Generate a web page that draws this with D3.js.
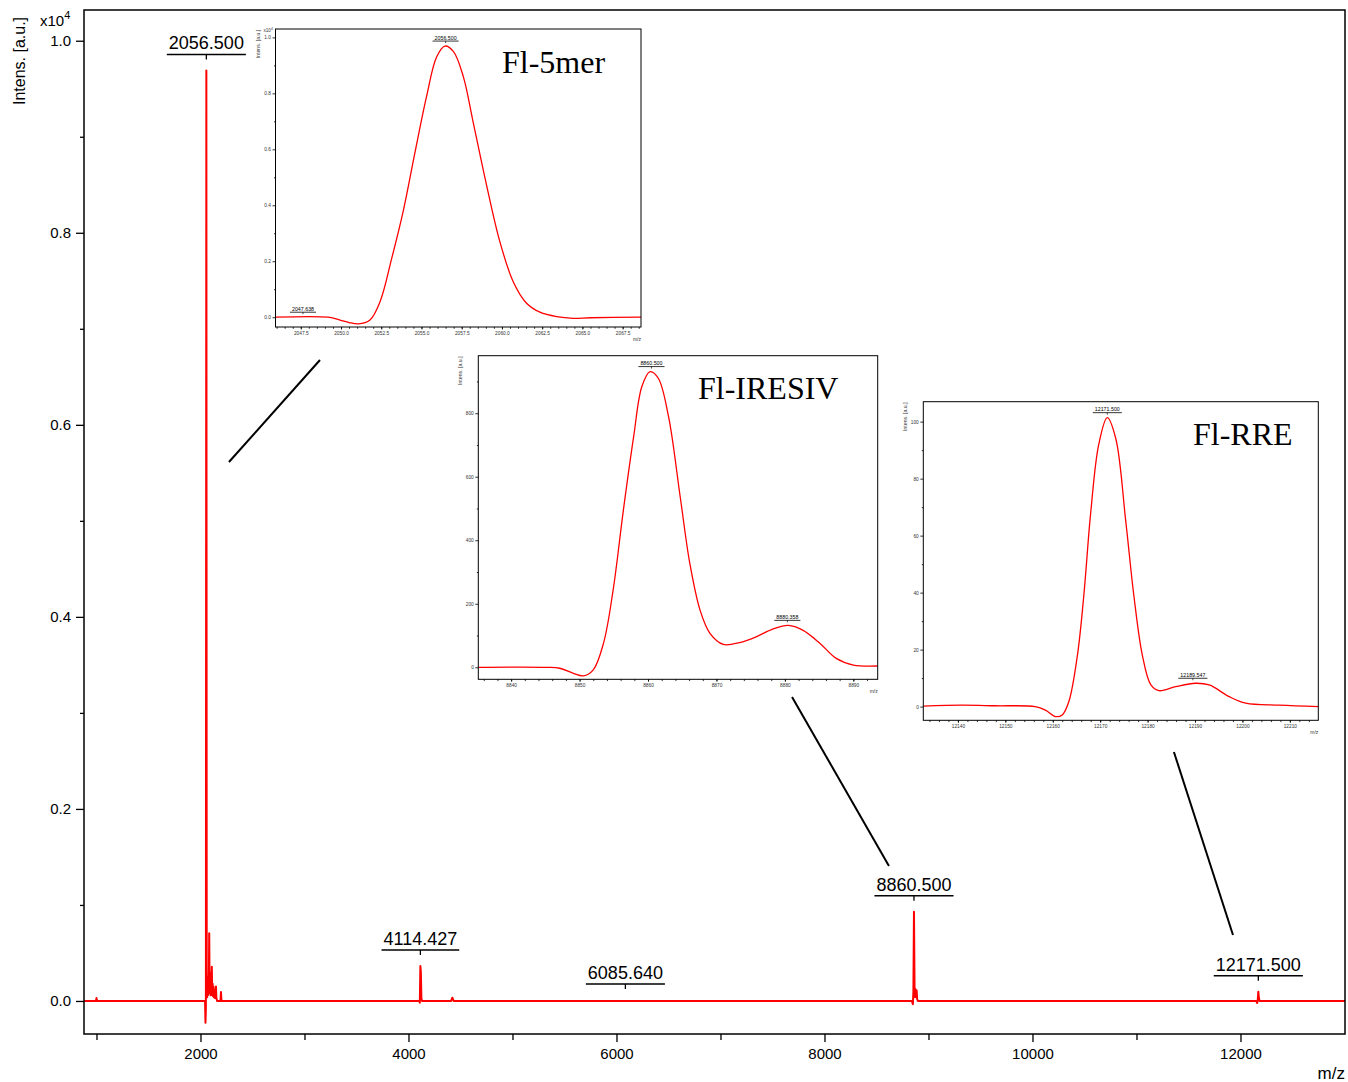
<!DOCTYPE html>
<html>
<head>
<meta charset="utf-8">
<script src="https://cdn.jsdelivr.net/npm/d3@7/dist/d3.min.js"></script>
<style>
  body { margin: 0; background: #fff; }
  svg { display: block; font-family: "Liberation Sans", Arial, Helvetica, sans-serif; }
</style>
</head>
<body>
<svg id="chart" width="1348" height="1082"></svg>
<script>
// ---- main spectrum (m/z vs intensity, raw counts) ----
var mainMz  = [880, 995, 1000, 1006, 2035, 2044, 2048, 2052, 2056.5, 2060, 2064, 2068, 2072, 2076, 2080, 2084, 2088, 2092,
               2097, 2101, 2105, 2109, 2113, 2117, 2121, 2125, 2129, 2134, 2140, 2145, 2149, 2153, 2160, 2185, 2192, 2197,
               2202, 4095, 4104, 4109, 4114.4, 4119, 4124, 4130, 4410, 4422, 4434, 8840, 8850, 8855, 8860.5, 8866, 8871,
               8876, 8881, 8886, 8891, 8897, 12150, 12161, 12166, 12171.5, 12177, 12184, 13005];
var mainInt = [0, 0, 30, 0, 0, 0, -226, -60, 9690, 300, 40, 200, 60, 250, 120, 705, 80, 300,
               60, 240, 80, 357, 60, 180, 50, 150, 40, 90, 30, 110, 150, 30, 0, 0, 0, 93,
               0, 0, 0, -18, 364, 300, 30, 0, 0, 34, 0, 0, -35, 100, 930, 150, 40,
               122, 60, 110, 20, 0, 0, -20, 10, 97, 30, 0, 0];
var mainPeakMz  = [2056.500, 4114.427, 6085.640, 8860.500, 12171.500];
var mainPeakInt = [9690, 364, 10, 930, 97];
var mainXTicks = [2000, 4000, 6000, 8000, 10000, 12000];
var mainXMinor = [1000, 3000, 5000, 7000, 9000, 11000];
var mainYTicks = [0, 2000, 4000, 6000, 8000, 10000];
var mainYMinor = [1000, 3000, 5000, 7000, 9000];

// ---- Fl-5mer inset ----
var fl5Mz  = [2045.93, 2049.21, 2049.94, 2050.5, 2051.08, 2051.8, 2052.43, 2053.15, 2053.87, 2054.6, 2055.32, 2055.94,
              2056.46, 2056.98, 2057.6, 2058.2, 2059.04, 2059.87, 2060.7, 2061.53, 2062.36, 2063.4, 2064.43, 2065.5, 2068.64];
var fl5Int = [0, 0, -100, -190, -240, -100, 560, 2100, 3800, 5900, 7900, 9300,
              9690, 9500, 8600, 7000, 4730, 2700, 1270, 500, 180, 20, -40, -20, 0];
var fl5PeakMz  = [2056.500, 2047.638];
var fl5PeakInt = [9690, 0];
var fl5XTicks = [2047.5, 2050, 2052.5, 2055, 2057.5, 2060, 2062.5, 2065, 2067.5];
var fl5YTicks = [0, 2000, 4000, 6000, 8000, 10000];

// ---- Fl-IRESIV inset ----
var iresMz  = [8835.2, 8845.2, 8847.1, 8849.1, 8850.55, 8852, 8853.5, 8854.9, 8856.4, 8857.9, 8859.1, 8860.3, 8861.5, 8863,
               8864.7, 8866.1, 8867.6, 8869.05, 8871, 8873.4, 8875.8, 8878.3, 8880.5, 8882.6, 8885.1, 8887.5, 8890, 8893.56];
var iresInt = [0, 0, -3, -19, -27, -8, 76, 243, 495, 726, 884, 931, 910, 789,
               537, 328, 180, 107, 72, 78, 96, 121, 132, 117, 76, 28, 7, 4];
var iresPeakMz  = [8860.500, 8880.358];
var iresPeakInt = [931, 132];
var iresXTicks = [8840, 8850, 8860, 8870, 8880, 8890];
var iresYTicks = [0, 200, 400, 600, 800];

// ---- Fl-RRE inset ----
var rreMz  = [12132.7, 12140.8, 12147.9, 12156.3, 12158.45, 12160.6, 12162, 12163.4, 12165.2, 12166.55, 12168, 12169.7, 12171.5,
              12173.3, 12175.4, 12177.1, 12178.9, 12180.7, 12182.4, 12185.9, 12190.1, 12193, 12197.2, 12200.7, 12207.8, 12216];
var rreInt = [0.2, 0.5, 0.3, 0, -1.2, -3.5, -2.9, 1.8, 18, 39, 68, 92, 101.4,
              94, 65, 39, 18, 7.6, 5.6, 7, 8.2, 7.6, 3.5, 1.2, 0.5, 0];
var rrePeakMz  = [12171.500, 12189.547];
var rrePeakInt = [101.4, 8.2];
var rreXTicks = [12140, 12150, 12160, 12170, 12180, 12190, 12200, 12210];
var rreYTicks = [0, 20, 40, 60, 80, 100];

// connector lines, in main chart coordinates [mz, intensity]
var connFrom = [[3149, 6675], [7688, 3166], [11360, 2593]];
var connTo   = [[2274, 5613], [8620, 1406], [11928, 687]];

var RED = "#ff0000";
var svg = d3.select("#chart");

// ================= main chart =================
var M = {left: 84, top: 10, right: 1345, bottom: 1034};
var x = d3.scaleLinear().domain([880, 13005]).range([M.left, M.right]);
var y = d3.scaleLinear().domain([-344, 10320]).range([M.bottom, M.top]);

svg.append("clipPath").attr("id", "mainclip").append("rect")
  .attr("x", M.left).attr("y", M.top).attr("width", M.right - M.left).attr("height", M.bottom - M.top);

var mainData = mainMz.map(function (d, i) { return [d, mainInt[i]]; });
svg.append("path")
  .datum(mainData)
  .attr("clip-path", "url(#mainclip)")
  .attr("d", d3.line().x(function (d) { return x(d[0]); }).y(function (d) { return y(d[1]); }))
  .style("fill", "none").style("stroke", RED).style("stroke-width", 2).style("stroke-linejoin", "round");

// axes
var xAxis = svg.append("g").attr("transform", "translate(0," + M.bottom + ")")
  .call(d3.axisBottom(x).tickValues(mainXTicks).tickSize(8).tickPadding(6).tickFormat(d3.format("d")));
svg.append("g").attr("transform", "translate(0," + M.bottom + ")")
  .call(d3.axisBottom(x).tickValues(mainXMinor).tickSize(6).tickFormat(""));
var yAxis = svg.append("g").attr("transform", "translate(" + M.left + ",0)")
  .call(d3.axisLeft(y).tickValues(mainYTicks).tickSize(8).tickPadding(5)
    .tickFormat(function (d) { return (d / 10000).toFixed(1); }));
svg.append("g").attr("transform", "translate(" + M.left + ",0)")
  .call(d3.axisLeft(y).tickValues(mainYMinor).tickSize(4).tickFormat(""));
svg.selectAll(".domain").remove();
svg.selectAll(".tick line").style("stroke", "#000").style("stroke-width", 1.3);
xAxis.selectAll("text").style("font-size", "15px").style("fill", "#000");
yAxis.selectAll("text").style("font-size", "15px").style("fill", "#000");

svg.append("rect")
  .attr("x", M.left).attr("y", M.top).attr("width", M.right - M.left).attr("height", M.bottom - M.top)
  .style("fill", "none").style("stroke", "#000").style("stroke-width", 1.5);

var xt = svg.append("text").attr("x", 40).attr("y", 26).style("font-size", "15px");
xt.append("tspan").text("x10");
xt.append("tspan").attr("dy", -7).style("font-size", "11px").text("4");

svg.append("text")
  .attr("transform", "translate(25,61) rotate(-90)")
  .attr("text-anchor", "middle").style("font-size", "16px")
  .text("Intens. [a.u.]");
svg.append("text").attr("x", 1345).attr("y", 1079).attr("text-anchor", "end")
  .style("font-size", "17px").text("m/z");

// peak labels
function peakLabel(g, px, py, txt, fs, gap, tick, lift) {
  var t = g.append("text").attr("x", px).attr("y", py - gap - tick - lift)
    .attr("text-anchor", "middle").style("font-size", fs + "px").style("fill", "#000").text(txt);
  var w = t.node().getComputedTextLength();
  g.append("line").attr("x1", px - w / 2 - 2).attr("x2", px + w / 2 + 2)
    .attr("y1", py - gap - tick).attr("y2", py - gap - tick)
    .style("stroke", "#000").style("stroke-width", fs > 10 ? 1.5 : 0.8);
  g.append("line").attr("x1", px).attr("x2", px)
    .attr("y1", py - gap - tick).attr("y2", py - gap)
    .style("stroke", "#000").style("stroke-width", fs > 10 ? 1.3 : 0.7);
}
var lblG = svg.append("g");
mainPeakMz.forEach(function (m, i) {
  peakLabel(lblG, x(m), y(mainPeakInt[i]), m.toFixed(3), 18, 11, 5, 5);
});

// connectors
connFrom.forEach(function (a, i) {
  svg.append("line")
    .attr("x1", x(a[0])).attr("y1", y(a[1]))
    .attr("x2", x(connTo[i][0])).attr("y2", y(connTo[i][1]))
    .style("stroke", "#000").style("stroke-width", 2);
});

// ================= insets =================
function drawInset(cfg) {
  var g = svg.append("g");
  var ix = d3.scaleLinear().domain(cfg.xDomain).range([cfg.left, cfg.right]);
  var iy = d3.scaleLinear().domain(cfg.yDomain).range([cfg.bottom, cfg.top]);
  var w = cfg.right - cfg.left, h = cfg.bottom - cfg.top;

  g.append("rect").attr("x", cfg.left).attr("y", cfg.top).attr("width", w).attr("height", h)
    .style("fill", "#fff");
  g.append("clipPath").attr("id", cfg.id).append("rect")
    .attr("x", cfg.left).attr("y", cfg.top).attr("width", w).attr("height", h);

  var data = cfg.mz.map(function (d, i) { return [d, cfg.val[i]]; });
  g.append("path").datum(data)
    .attr("clip-path", "url(#" + cfg.id + ")")
    .attr("d", d3.line().curve(d3.curveCatmullRom.alpha(0.5))
      .x(function (d) { return ix(d[0]); }).y(function (d) { return iy(d[1]); }))
    .style("fill", "none").style("stroke", RED).style("stroke-width", 1.3);

  // axes
  var xa = g.append("g").attr("transform", "translate(0," + cfg.bottom + ")")
    .call(d3.axisBottom(ix).tickValues(cfg.xTicks).tickSize(2.5).tickPadding(2).tickFormat(cfg.xFmt));
  g.append("g").attr("transform", "translate(0," + cfg.bottom + ")")
    .call(d3.axisBottom(ix).tickValues(d3.range(cfg.xMinor[0], cfg.xDomain[1], cfg.xMinor[1])).tickSize(1.8).tickFormat(""));
  var ya = g.append("g").attr("transform", "translate(" + cfg.left + ",0)")
    .call(d3.axisLeft(iy).tickValues(cfg.yTicks).tickSize(3).tickPadding(1.5).tickFormat(cfg.yFmt));
  g.append("g").attr("transform", "translate(" + cfg.left + ",0)")
    .call(d3.axisLeft(iy).tickValues(d3.range(cfg.yMinor[0], cfg.yDomain[1], cfg.yMinor[1])).tickSize(1.5).tickFormat(""));
  g.selectAll(".domain").remove();
  g.selectAll(".tick line").style("stroke", "#000").style("stroke-width", 0.8);
  xa.selectAll("text").style("font-size", "4.8px").style("fill", "#333");
  ya.selectAll("text").style("font-size", "4.8px").style("fill", "#333");

  g.append("rect").attr("x", cfg.left).attr("y", cfg.top).attr("width", w).attr("height", h)
    .style("fill", "none").style("stroke", "#000").style("stroke-width", 1);

  g.append("text")
    .attr("transform", "translate(" + (cfg.left - 16) + "," + (cfg.top + 15) + ") rotate(-90)")
    .attr("text-anchor", "middle").style("font-size", "5.2px").style("fill", "#333")
    .text("Intens. [a.u.]");
  if (cfg.exp) {
    var e = g.append("text").attr("x", cfg.left - 12).attr("y", cfg.top + 3).style("font-size", "4.6px").style("fill", "#333");
    e.append("tspan").text("x10");
    e.append("tspan").attr("dy", -1.8).style("font-size", "3.4px").text("4");
  }
  g.append("text").attr("x", cfg.right).attr("y", cfg.bottom + 14).attr("text-anchor", "end")
    .style("font-size", "5px").style("fill", "#333").text("m/z");

  cfg.peakMz.forEach(function (m, i) {
    peakLabel(g, ix(m), iy(cfg.peakVal[i]), m.toFixed(3), 5.3, 3, 2, 1.4);
  });

  g.append("text").attr("x", cfg.left + cfg.titleDx).attr("y", cfg.top + cfg.titleDy)
    .style("font-family", "'Liberation Serif','Times New Roman',serif").style("font-size", "32px")
    .style("fill", "#000").text(cfg.title);
}

drawInset({
  id: "clip5", left: 275.5, top: 29, right: 641, bottom: 327,
  xDomain: [2045.93, 2068.64], yDomain: [-350, 10300],
  mz: fl5Mz, val: fl5Int, peakMz: fl5PeakMz, peakVal: fl5PeakInt,
  xTicks: fl5XTicks, xMinor: [2046, 0.5], yTicks: fl5YTicks, yMinor: [1000, 2000],
  xFmt: d3.format(".1f"), yFmt: function (d) { return (d / 10000).toFixed(1); },
  exp: true, title: "Fl-5mer", titleDx: 226.5, titleDy: 44
});
drawInset({
  id: "clipires", left: 478.3, top: 355.7, right: 877.7, bottom: 679.3,
  xDomain: [8835.2, 8893.56], yDomain: [-37.8, 981],
  mz: iresMz, val: iresInt, peakMz: iresPeakMz, peakVal: iresPeakInt,
  xTicks: iresXTicks, xMinor: [8836, 2], yTicks: iresYTicks, yMinor: [100, 200],
  xFmt: d3.format("d"), yFmt: d3.format("d"),
  exp: false, title: "Fl-IRESIV", titleDx: 219.7, titleDy: 43.6
});
drawInset({
  id: "cliprre", left: 923.3, top: 401.7, right: 1318.3, bottom: 720.3,
  xDomain: [12132.7, 12216], yDomain: [-4.8, 107],
  mz: rreMz, val: rreInt, peakMz: rrePeakMz, peakVal: rrePeakInt,
  xTicks: rreXTicks, xMinor: [12134, 2], yTicks: rreYTicks, yMinor: [10, 20],
  xFmt: d3.format("d"), yFmt: d3.format("d"),
  exp: false, title: "Fl-RRE", titleDx: 269.7, titleDy: 43.3
});
</script>
</body>
</html>
